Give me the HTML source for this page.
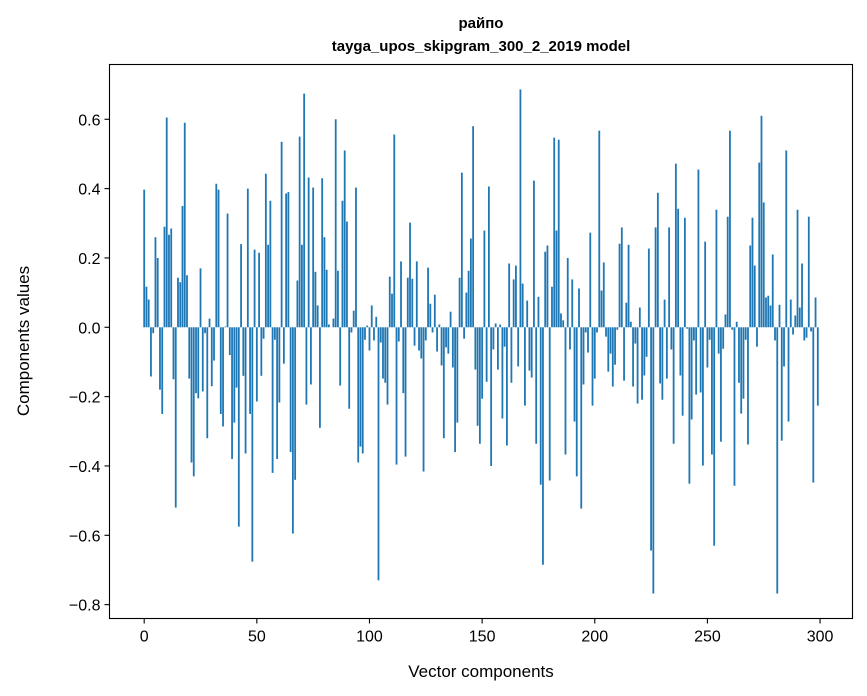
<!DOCTYPE html>
<html><head><meta charset="utf-8"><style>
body{margin:0;background:#fff;}
svg{display:block;font-family:"Liberation Sans","DejaVu Sans",sans-serif;}
</style></head><body>
<svg id="chart" width="867" height="696" viewBox="0 0 867 696" xmlns="http://www.w3.org/2000/svg">
<rect width="867" height="696" fill="#fff"/>
<text x="481" y="28" text-anchor="middle" font-size="15" font-weight="bold">райпо</text>
<text x="481" y="51" text-anchor="middle" font-size="15" font-weight="bold">tayga_upos_skipgram_300_2_2019 model</text>
<g id="bars"></g>
<g id="axes"></g>
<text x="481" y="677" text-anchor="middle" font-size="17">Vector components</text>
<text transform="translate(29,341) rotate(-90)" text-anchor="middle" font-size="17">Components values</text>
</svg>
<script>
const values = [0.397,0.117,0.08,-0.142,-0.017,0.26,0.2,-0.18,-0.25,0.29,
0.605,0.267,0.285,-0.15,-0.52,0.143,0.13,0.35,0.59,0.15,
-0.148,-0.39,-0.43,-0.19,-0.205,0.17,-0.185,-0.017,-0.32,0.025,
-0.17,-0.096,0.414,0.397,-0.25,-0.286,0.002,0.328,-0.08,-0.38,
-0.275,-0.174,-0.575,0.24,-0.14,-0.364,0.4,-0.25,-0.676,0.224,
-0.214,0.215,-0.14,-0.033,0.443,0.238,0.365,-0.42,-0.036,-0.38,
-0.217,0.535,-0.105,0.386,0.39,-0.36,-0.595,-0.44,0.135,0.55,
0.238,0.674,-0.223,0.432,-0.165,0.403,0.16,0.063,-0.29,0.43,
0.26,0.166,0.008,0.0,0.025,0.6,0.163,-0.168,0.365,0.51,
0.305,-0.235,-0.015,0.048,0.403,-0.39,-0.344,-0.364,-0.036,0.005,
-0.067,0.063,-0.038,0.03,-0.73,-0.044,-0.148,-0.16,-0.223,0.146,
0.097,0.556,-0.396,-0.041,0.19,-0.19,-0.373,0.143,0.302,0.14,
-0.053,0.19,-0.067,-0.09,-0.416,-0.038,0.172,0.068,-0.015,0.094,
-0.07,0.008,-0.11,-0.32,-0.058,-0.076,0.045,-0.116,-0.36,-0.275,
0.143,0.446,-0.033,0.1,0.163,0.256,0.58,-0.122,-0.284,-0.336,
-0.206,0.279,-0.157,0.406,-0.4,-0.064,0.011,-0.122,0.008,-0.263,
-0.056,-0.341,0.184,-0.16,0.138,0.178,-0.113,0.686,0.126,-0.226,
0.077,-0.125,-0.145,0.423,-0.336,0.088,-0.454,-0.685,0.218,0.236,
-0.442,0.117,0.547,0.279,0.541,0.04,0.02,-0.367,0.2,-0.064,
0.138,-0.272,-0.43,0.112,-0.523,-0.165,-0.015,-0.073,0.273,-0.226,
-0.148,-0.015,0.567,0.106,0.187,-0.027,-0.128,-0.076,-0.171,-0.108,
-0.007,0.241,0.288,-0.154,0.071,0.238,0.016,-0.171,-0.047,-0.22,
0.057,-0.209,-0.139,-0.085,0.227,-0.644,-0.768,0.288,0.388,-0.162,
-0.209,0.08,-0.148,0.288,-0.064,-0.336,0.472,0.342,-0.139,-0.255,
0.316,-0.004,-0.451,-0.266,-0.038,-0.194,0.455,-0.188,-0.399,0.247,
-0.116,-0.036,-0.367,-0.63,0.339,-0.076,-0.33,-0.062,0.037,0.319,
0.567,-0.007,-0.457,0.016,-0.16,-0.249,-0.206,-0.036,-0.338,0.236,
0.316,0.178,-0.056,0.475,0.61,0.36,0.086,0.091,0.063,0.21,
-0.038,-0.768,0.065,-0.327,-0.113,0.51,-0.272,0.08,-0.021,0.034,
0.339,0.057,0.184,-0.038,-0.03,0.319,-0.012,-0.448,0.086,-0.226];
const xTicks = [0,50,100,150,200,250,300];
const yTicks = [-0.8,-0.6,-0.4,-0.2,0.0,0.2,0.4,0.6];
const yTickLabels = ["\u22120.8","\u22120.6","\u22120.4","\u22120.2","0.0","0.2","0.4","0.6"];

const L=109.5,R=852.5,T=64.5,B=618.5;
const x0=-15.4,x1=314.4,y0=-0.84,y1=0.758;
const sx=v=>L+(v-x0)/(x1-x0)*(R-L);
const sy=v=>B-(v-y0)/(y1-y0)*(B-T);
const NS="http://www.w3.org/2000/svg";
const bars=document.getElementById('bars');
const axes=document.getElementById('axes');
function mk(tag,attrs,parent){const e=document.createElementNS(NS,tag);for(const k in attrs)e.setAttribute(k,attrs[k]);parent.appendChild(e);return e;}
values.forEach((v,i)=>{
  const xa=sx(i-0.4),xb=sx(i+0.4);
  const ya=sy(Math.max(v,0)),yb=sy(Math.min(v,0));
  const r=mk('rect',{x:xa,y:ya,width:xb-xa,height:Math.max(yb-ya,0.01),fill:'#1f77b4'},bars);
  
  
});
const frame=mk('rect',{x:L,y:T,width:R-L,height:B-T,fill:'none',stroke:'#000','stroke-width':1.1},axes);


xTicks.forEach(t=>{
  const x=sx(t);
  const l=mk('line',{x1:x,x2:x,y1:B,y2:B+5,stroke:'#000','stroke-width':1.1},axes);
  
  
  const tx=mk('text',{x:x,y:B+23,'text-anchor':'middle','font-size':'16'},axes);
  tx.textContent=String(t);
  
  
});
yTicks.forEach((t,i)=>{
  const y=sy(t);
  const l=mk('line',{x1:L-5,x2:L,y1:y,y2:y,stroke:'#000','stroke-width':1.1},axes);
  
  
  const tx=mk('text',{x:L-9,y:y+6,'text-anchor':'end','font-size':'16'},axes);
  tx.textContent=yTickLabels[i];
  
  
});
</script>
</body></html>
